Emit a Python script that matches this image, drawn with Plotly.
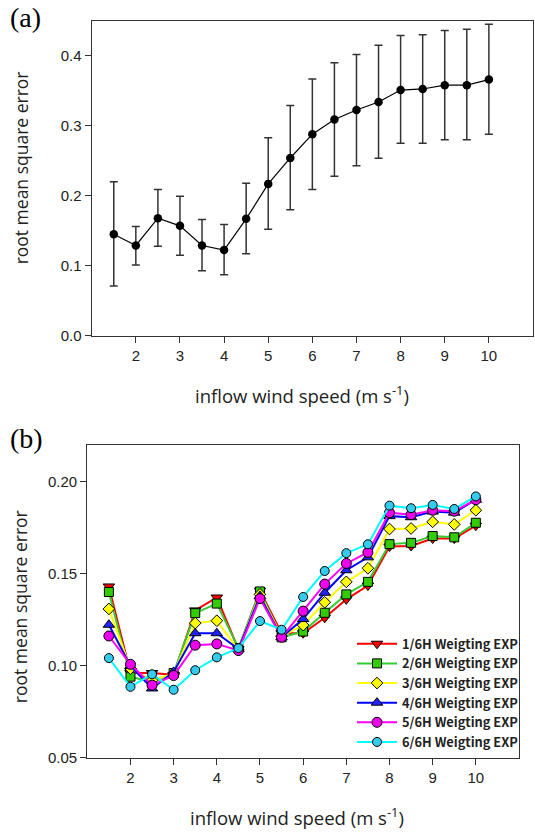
import plotly.graph_objects as go

speed = [1.5, 2, 2.5, 3, 3.5, 4, 4.5, 5, 5.5, 6, 6.5, 7, 7.5, 8, 8.5, 9, 9.5, 10]

# Panel (a)
rmse_mean = [0.145, 0.129, 0.168, 0.157, 0.129, 0.1225, 0.167, 0.217, 0.254, 0.288,
             0.309, 0.3225, 0.334, 0.351, 0.3526, 0.358, 0.358, 0.366]
rmse_upper = [0.220, 0.156, 0.209, 0.1995, 0.166, 0.159, 0.218, 0.283, 0.329, 0.367,
              0.390, 0.402, 0.415, 0.429, 0.430, 0.436, 0.438, 0.445]
rmse_lower = [0.071, 0.101, 0.128, 0.115, 0.093, 0.087, 0.117, 0.152, 0.180, 0.209,
              0.228, 0.243, 0.2535, 0.275, 0.275, 0.280, 0.280, 0.288]

# Panel (b)
series_names = ["1/6H Weigting EXP", "2/6H Weigting EXP", "3/6H Weigting EXP",
                "4/6H Weigting EXP", "5/6H Weigting EXP", "6/6H Weigting EXP"]
exp1 = [0.143, 0.096, 0.096, 0.095, 0.130, 0.137, 0.109, 0.1407, 0.1176, 0.1176,
        0.126, 0.136, 0.1435, 0.1647, 0.165, 0.169, 0.169, 0.176]
exp2 = [0.140, 0.094, 0.091, 0.096, 0.1285, 0.1337, 0.1095, 0.1403, 0.1154, 0.1185,
        0.1287, 0.1387, 0.1455, 0.166, 0.1667, 0.1704, 0.1697, 0.1776]
exp3 = [0.1308, 0.0984, 0.092, 0.0957, 0.1231, 0.1244, 0.1086, 0.1387, 0.116, 0.122,
        0.1344, 0.1455, 0.1529, 0.1742, 0.1745, 0.1781, 0.1767, 0.1844]
exp4 = [0.1222, 0.0998, 0.0876, 0.0966, 0.1176, 0.1176, 0.109, 0.1378, 0.1154, 0.1253,
        0.1396, 0.1518, 0.1588, 0.1812, 0.1806, 0.1837, 0.1831, 0.1901]
exp5 = [0.1161, 0.1007, 0.0894, 0.0946, 0.1111, 0.1118, 0.1082, 0.1364, 0.1154, 0.1296,
        0.1443, 0.1555, 0.1615, 0.1831, 0.182, 0.1844, 0.1839, 0.1901]
exp6 = [0.1041, 0.0885, 0.0953, 0.0869, 0.0975, 0.1045, 0.1095, 0.1242, 0.1195, 0.1373,
        0.1514, 0.1611, 0.1659, 0.1869, 0.1855, 0.1873, 0.1851, 0.1919]
series_values = [exp1, exp2, exp3, exp4, exp5, exp6]

x_ticks = [2, 3, 4, 5, 6, 7, 8, 9, 10]
y_ticks_a = [0.0, 0.1, 0.2, 0.3, 0.4]
y_ticks_b = [0.05, 0.10, 0.15, 0.20]

line_colors = ["#ff0000", "#33cc33", "#ffff00", "#0000ff", "#ff00ff", "#00ffff"]
marker_colors = ["#ff0000", "#33cc00", "#ffff00", "#2222ff", "#ee00ee", "#33ccee"]
symbols = ["triangle-down", "square", "diamond", "triangle-up", "circle", "circle"]
msizes = [10, 9, 9, 10, 10, 9]

W, H = 535, 836
fig = go.Figure()

fig.add_trace(go.Scatter(
    x=speed, y=rmse_mean, mode="lines+markers", showlegend=False,
    line=dict(color="black", width=1.2),
    marker=dict(color="black", size=8.5, symbol="circle"),
    error_y=dict(type="data", symmetric=False,
                 array=[u - m for u, m in zip(rmse_upper, rmse_mean)],
                 arrayminus=[m - l for m, l in zip(rmse_mean, rmse_lower)],
                 color="#333333", thickness=1.5, width=4),
    xaxis="x", yaxis="y"))

for name, vals, lc, mc, sym, ms in zip(series_names, series_values, line_colors,
                                       marker_colors, symbols, msizes):
    fig.add_trace(go.Scatter(
        x=speed, y=vals, mode="lines+markers", name=name,
        line=dict(color=lc, width=2),
        marker=dict(color=mc, size=ms, symbol=sym, line=dict(color="black", width=1)),
        xaxis="x2", yaxis="y2"))

tickfont = dict(family="Liberation Sans, Arial", size=15, color="#222222")
axis_common = dict(showline=True, linecolor="#333333", linewidth=1.2, mirror=True,
                   ticks="outside", ticklen=6, tickwidth=1.2, tickcolor="#333333",
                   showgrid=False, zeroline=False, tickfont=tickfont)

fig.update_layout(
    width=W, height=H, margin=dict(l=0, r=0, t=0, b=0),
    paper_bgcolor="white", plot_bgcolor="white",
    xaxis=dict(domain=[91.7 / W, 533 / W], range=[1, 11], tickvals=x_ticks,
               anchor="y", **axis_common),
    yaxis=dict(domain=[1 - 339 / H, 1 - 21 / H], range=[0, 0.45], tickvals=y_ticks_a,
               tickformat=".1f", anchor="x", **axis_common),
    xaxis2=dict(domain=[87.3 / W, 519 / W], range=[1, 11], tickvals=x_ticks,
                anchor="y2", **axis_common),
    yaxis2=dict(domain=[1 - 765 / H, 1 - 449 / H], range=[0.05, 0.22], tickvals=y_ticks_b,
                tickformat=".2f", anchor="x2", **axis_common),
    legend=dict(x=352 / W, y=1 - 635 / H, xanchor="left", yanchor="top",
                bgcolor="rgba(0,0,0,0)", tracegroupgap=0, itemwidth=40,
                font=dict(family="Noto Sans CJK KR", size=12.8, color="#222222",
                          weight="bold")),
)

title_font = dict(family="Open Sans", size=18.5, color="#222222")
ytitle_font = dict(family="Open Sans", size=17.5, color="#222222")
fig.add_annotation(text="(a)", x=8 / W, y=1 - 18 / H, xref="paper", yref="paper",
                   xanchor="left", yanchor="middle", showarrow=False,
                   font=dict(family="Liberation Serif", size=28, color="black"))
fig.add_annotation(text="(b)", x=8 / W, y=1 - 443 / H, xref="paper", yref="paper",
                   xanchor="left", yanchor="middle", showarrow=False,
                   font=dict(family="Liberation Serif", size=28, color="black"))
fig.add_annotation(text="inflow wind speed (m s<sup>-1</sup>)", x=302 / W, y=1 - 398 / H,
                   xref="paper", yref="paper", xanchor="center", yanchor="middle",
                   showarrow=False, font=title_font)
fig.add_annotation(text="inflow wind speed (m s<sup>-1</sup>)", x=297 / W, y=1 - 824 / H,
                   xref="paper", yref="paper", xanchor="center", yanchor="middle",
                   showarrow=False, font=title_font)
fig.add_annotation(text="root mean square error", x=21 / W, y=1 - 170 / H,
                   xref="paper", yref="paper", xanchor="center", yanchor="middle",
                   textangle=-90, showarrow=False, font=ytitle_font)
fig.add_annotation(text="root mean square error", x=20 / W, y=1 - 613 / H,
                   xref="paper", yref="paper", xanchor="center", yanchor="middle",
                   textangle=-90, showarrow=False, font=ytitle_font)

fig.write_html("out.html")
